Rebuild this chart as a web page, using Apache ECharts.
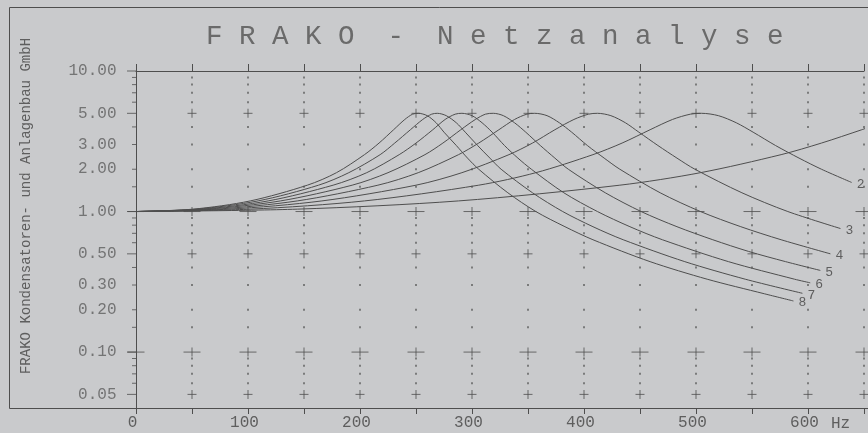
<!DOCTYPE html>
<html><head><meta charset="utf-8">
<script src="https://cdn.jsdelivr.net/npm/echarts@6/dist/echarts.min.js"></script>
<style>html,body{margin:0;padding:0;background:#c9cacc}#c{width:868px;height:433px}</style>
</head><body><div id="c"></div>
<script>
// ---- data ----
const curveNames = ['1','2','3','4','5','6','7','8'];
const curve1 = [[0,1.00],[144,1.04],[288,1.19],[432,1.54],[504,1.89],[576,2.54],[612,3.07],[648,3.82],[655,4.00]];
const curve2 = [[0,1.00],[102,1.04],[204,1.19],[306,1.54],[357,1.89],[408,2.54],[434,3.07],[459,3.82],[479,4.52],[495,4.93],[505,5.00],[520,4.81],[536,4.28],[551,3.67],[571,2.95],[592,2.40],[612,2.00],[639,1.61]];
const curve3 = [[0,1.00],[83,1.04],[166,1.19],[250,1.54],[291,1.89],[333,2.54],[354,3.07],[374,3.82],[391,4.52],[404,4.93],[412,5.00],[424,4.81],[437,4.28],[449,3.67],[466,2.95],[483,2.40],[499,2.00],[541,1.36],[582,1.00],[629,0.757]];
const curve4 = [[0,1.00],[72,1.04],[144,1.19],[216,1.54],[252,1.89],[288,2.54],[306,3.07],[324,3.82],[338,4.52],[349,4.93],[356,5.00],[367,4.81],[378,4.28],[389,3.67],[403,2.95],[418,2.40],[432,2.00],[468,1.36],[504,1.00],[540,0.78],[576,0.63],[620,0.50]];
const curve5 = [[0,1.00],[64,1.04],[129,1.19],[193,1.54],[225,1.89],[258,2.54],[274,3.07],[290,3.82],[303,4.52],[312,4.93],[319,5.00],[328,4.81],[338,4.28],[348,3.67],[361,2.95],[374,2.40],[386,2.00],[419,1.36],[451,1.00],[483,0.78],[515,0.63],[547,0.52],[580,0.44],[611,0.381]];
const curve6 = [[0,1.00],[59,1.04],[118,1.19],[176,1.54],[206,1.89],[235,2.54],[250,3.07],[265,3.82],[276,4.52],[285,4.93],[291,5.00],[300,4.81],[309,4.28],[318,3.67],[329,2.95],[341,2.40],[353,2.00],[382,1.36],[412,1.00],[441,0.78],[470,0.63],[529,0.44],[588,0.33],[602,0.311]];
const curve7 = [[0,1.00],[54,1.04],[109,1.19],[163,1.54],[190,1.89],[218,2.54],[231,3.07],[245,3.82],[256,4.52],[264,4.93],[269,5.00],[277,4.81],[286,4.28],[294,3.67],[305,2.95],[316,2.40],[326,2.00],[354,1.36],[381,1.00],[408,0.78],[435,0.63],[490,0.44],[544,0.33],[595,0.262]];
const curve8 = [[0,1.00],[51,1.04],[102,1.19],[153,1.54],[179,1.89],[204,2.54],[217,3.07],[230,3.82],[240,4.52],[247,4.93],[252,5.00],[260,4.81],[268,4.28],[275,3.67],[286,2.95],[296,2.40],[306,2.00],[332,1.36],[357,1.00],[383,0.78],[408,0.63],[459,0.44],[510,0.33],[561,0.26],[587,0.231]];
const curves = [curve1,curve2,curve3,curve4,curve5,curve6,curve7,curve8];

const xColumns = [50,100,150,200,250,300,350,400,450,500,550,600,650];
const xTickLabels = ['0','100','200','300','400','500','600'];
const xTickLabelValues = [0,100,200,300,400,500,600];
const yLabelValues = [10,5,3,2,1,0.5,0.3,0.2,0.1,0.05];
const yTickLabels = ['10.00','5.00','3.00','2.00','1.00','0.50','0.30','0.20','0.10','0.05'];
const yLongTicks = [10,5,1,0.5,0.1,0.05];
const yShortTicks = [9,8,7,6,4,3,2,1.5,0.9,0.8,0.7,0.6,0.4,0.3,0.2,0.15,0.09,0.08,0.07,0.06];
const dotLevels = [9,8,7,6,4,3,2,1.5,0.9,0.8,0.7,0.6,0.4,0.3,0.2,0.15,0.09,0.08,0.07,0.06];
const smallCrossLevels = [5,0.5,0.05];
const wideCrossLevels = [1,0.1];

const titleText = 'F R A K O  -  N e t z a n a l y s e';
const sideText = 'FRAKO Kondensatoren- und Anlagenbau GmbH';
const unitText = 'Hz';

// ---- styling ----
const LINE = '#4e4e4e', TXT = '#5e5e5e', MONO = 'Liberation Mono, DejaVu Sans Mono, monospace';

function grid2(xs, ys){ const out=[]; xs.forEach(x=>ys.forEach(y=>out.push([x,y]))); return out; }
function marks(name, data, size, offset, color){
  return {name, type:'scatter', data, symbol:'rect', symbolSize:size, symbolOffset:offset||[0,0],
    itemStyle:{color:color||LINE}, silent:true, clip:false, z:3, animation:false};
}

const series = [];
curves.forEach((c,i)=>{
  series.push({name:curveNames[i], type:'line', data:c, showSymbol:false, smooth:0.3,
    lineStyle:{color:LINE, width:1}, z:5, animation:false, clip:true,
    endLabel:{show:true, formatter:'{a}', distance:5, offset:[0,2], color:TXT, fontSize:13, fontFamily:MONO}});
});
series.push(marks('dots', grid2(xColumns, dotLevels), 2, null, '#666'));
series.push(marks('scH', grid2(xColumns, smallCrossLevels), [9,1]));
series.push(marks('scV', grid2(xColumns, smallCrossLevels), [1,9]));
series.push(marks('wcH', grid2([0].concat(xColumns), wideCrossLevels), [17,1]));
series.push(marks('wcV', grid2(xColumns, wideCrossLevels), [1,9]));
series.push(marks('yLong', yLongTicks.map(v=>[0,v]), [9,1], [-4.5,0]));
series.push(marks('yShort', yShortTicks.map(v=>[0,v]), [4,1], [-2,0]));
series.push({name:'yLabels', type:'scatter', data:yLabelValues.map(v=>[0,v]), symbolSize:1,
  itemStyle:{color:'transparent'}, clip:false, silent:true, animation:false,
  label:{show:true, position:'left', distance:19, color:TXT, fontSize:16, fontFamily:MONO,
    formatter:p=>yTickLabels[p.dataIndex]}});

const chart = echarts.init(document.getElementById('c'), null, {renderer:'canvas'});
chart.setOption({
  backgroundColor:'#c9cacc',
  animation:false,
  title:{text:titleText, left:201, top:18, textStyle:{fontFamily:MONO, fontSize:27.5, fontWeight:'normal', color:'#6a6a6a'}},
  grid:{left:136, right:4, top:71, bottom:25, containLabel:false},
  xAxis:[{type:'value', min:0, max:650, interval:50, position:'bottom',
      axisLine:{lineStyle:{color:LINE}}, axisTick:{length:6, lineStyle:{color:LINE}},
      splitLine:{show:false},
      axisLabel:{margin:7, padding:[0,7,0,0], color:TXT, fontSize:16, fontFamily:MONO,
        formatter:v=>{const k=xTickLabelValues.indexOf(v); return k>=0?xTickLabels[k]:'';}}},
    {type:'value', min:0, max:650, interval:50, position:'top',
      axisLine:{lineStyle:{color:LINE}}, axisTick:{length:7, lineStyle:{color:LINE}},
      axisLabel:{show:false}, splitLine:{show:false}}],
  yAxis:{type:'log', logBase:10, min:0.04, max:10,
    axisLine:{show:true, lineStyle:{color:LINE}}, axisTick:{show:false}, axisLabel:{show:false}, splitLine:{show:false}},
  graphic:[
    {type:'rect', shape:{x:9.5, y:7.5, width:900, height:401}, style:{fill:'none', stroke:LINE, lineWidth:1}, silent:true},
    {type:'text', x:26, y:206, rotation:Math.PI/2, style:{text:sideText, font:'14px '+MONO, fill:TXT, align:'center', verticalAlign:'middle'}},
    {type:'text', x:831, y:424, style:{text:unitText, font:'16px '+MONO, fill:TXT, align:'left', verticalAlign:'middle'}}
  ],
  series
});
</script></body></html>
